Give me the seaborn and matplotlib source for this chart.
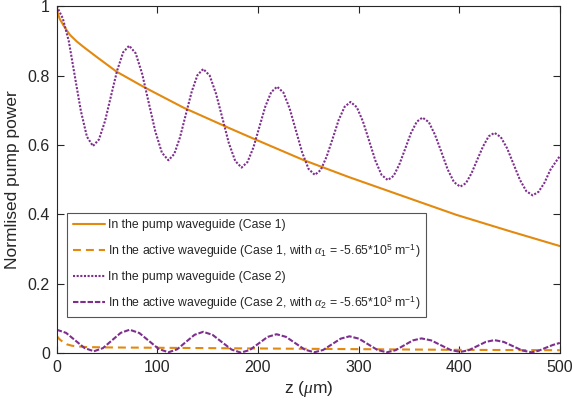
import matplotlib
matplotlib.use("Agg")
import matplotlib.pyplot as plt
import seaborn as sns
import pandas as pd

# ---------------- data ----------------
z_pump1 = [0, 1, 3, 6.6, 10, 13.2, 20, 26.4, 40, 59.6, 86, 125.7, 172, 195, 245, 290, 341, 397, 450, 500]
p_pump1 = [1.0, 0.98, 0.963, 0.945, 0.93, 0.917, 0.898, 0.883, 0.853, 0.811, 0.768, 0.708, 0.648, 0.619,
           0.557, 0.508, 0.456, 0.399, 0.352, 0.309]

z_act1 = [0, 3, 6, 10, 15, 20, 30, 50, 100, 150, 200, 250, 300, 350, 400, 450, 500]
p_act1 = [0.05, 0.04, 0.033, 0.026, 0.022, 0.02, 0.018, 0.017, 0.016, 0.015, 0.014, 0.013, 0.012,
          0.011, 0.010, 0.0095, 0.009]

z_pump2 = [0, 6, 12, 18, 24, 30, 36,
           42, 48, 54, 60, 66, 72,
           78.5, 85, 91.5, 98, 104.5, 111,
           116.8, 122.5, 128.3, 134.1, 139.8, 145.6,
           152, 158.3, 164.7, 171, 177.4, 183.7,
           189.6, 195.5, 201.4, 207.2, 213.1, 219,
           225.3, 231.5, 237.8, 244, 250.3, 256.5,
           262.4, 268.3, 274.3, 280.2, 286.1, 292,
           298.2, 304.3, 310.5, 316.7, 322.8, 329,
           334.8, 340.5, 346.3, 352, 357.8, 363.5,
           369.8, 376, 382.3, 388.5, 394.8, 401,
           406.7, 412.3, 418, 423.7, 429.3, 435,
           441.3, 447.7, 454, 460.3, 466.7, 473,
           478.8, 484.7, 490.5, 496.3, 500]
p_pump2 = [1.0, 0.965, 0.899, 0.798, 0.698, 0.624, 0.597,
           0.616, 0.669, 0.742, 0.814, 0.867, 0.886,
           0.864, 0.804, 0.721, 0.639, 0.578, 0.556,
           0.574, 0.622, 0.688, 0.753, 0.801, 0.819,
           0.800, 0.748, 0.677, 0.606, 0.554, 0.535,
           0.551, 0.593, 0.652, 0.710, 0.752, 0.768,
           0.751, 0.705, 0.641, 0.578, 0.531, 0.514,
           0.528, 0.567, 0.619, 0.672, 0.710, 0.724,
           0.709, 0.668, 0.612, 0.555, 0.514, 0.499,
           0.511, 0.544, 0.589, 0.634, 0.667, 0.679,
           0.666, 0.629, 0.580, 0.530, 0.493, 0.480,
           0.490, 0.519, 0.558, 0.596, 0.625, 0.635,
           0.623, 0.590, 0.545, 0.500, 0.467, 0.455,
           0.465, 0.491, 0.528, 0.553, 0.568]

z_act2 = [0, 9.25, 18.5, 27.75, 37,
          45.9, 54.75, 63.6, 72.5,
          82.1, 91.75, 101.4, 111,
          119.7, 128.3, 137, 145.6,
          155, 164.3, 173.7, 183,
          191.9, 200.75, 209.6, 218.5,
          227.9, 237.25, 246.6, 256,
          264.75, 273.5, 282.25, 291,
          300.25, 309.5, 318.75, 328,
          336.6, 345.25, 353.9, 362.5,
          372.1, 381.75, 391.4, 401,
          409.5, 418, 426.5, 435,
          444.25, 453.5, 462.75, 472,
          479, 486, 493, 500]
p_act2 = [0.068, 0.059, 0.037, 0.015, 0.006,
          0.015, 0.037, 0.059, 0.068,
          0.0585, 0.0355, 0.0125, 0.003,
          0.0116, 0.0325, 0.0534, 0.062,
          0.053, 0.032, 0.011, 0.002,
          0.0097, 0.0285, 0.0473, 0.055,
          0.0474, 0.029, 0.0106, 0.003,
          0.0097, 0.026, 0.0423, 0.049,
          0.0423, 0.026, 0.0097, 0.003,
          0.0088, 0.023, 0.0372, 0.043,
          0.0373, 0.0235, 0.0097, 0.004,
          0.009, 0.021, 0.033, 0.038,
          0.0329, 0.0205, 0.0081, 0.003,
          0.0075, 0.016, 0.024, 0.030]

labels = [
    "In the pump waveguide (Case 1)",
    r"In the active waveguide (Case 1, with $\alpha_1$ = -5.65*10$^5$ m$^{-1}$)",
    "In the pump waveguide (Case 2)",
    r"In the active waveguide (Case 2, with $\alpha_2$ = -5.65*10$^3$ m$^{-1}$)",
]
x_ticks = [0, 100, 200, 300, 400, 500]
y_ticks = [0, 0.2, 0.4, 0.6, 0.8, 1.0]
y_ticklabels = ["0", "0.2", "0.4", "0.6", "0.8", "1"]

# ---------------- style ----------------
sns.set_style("ticks")
plt.rcParams["font.family"] = ["Liberation Sans", "DejaVu Sans"]
plt.rcParams["mathtext.fontset"] = "custom"
plt.rcParams["mathtext.rm"] = "Liberation Sans"
plt.rcParams["mathtext.it"] = "Liberation Serif:italic"
plt.rcParams["mathtext.bf"] = "Liberation Sans:bold"

ORANGE = "#E2890E"
PURPLE = "#7E2F8E"
DARK = "#262626"

fig = plt.figure(figsize=(5.73, 4.08), dpi=100)
ax = fig.add_axes([0.099, 0.134, 0.878, 0.851])

series = [
    (z_pump1, p_pump1, ORANGE, "-", labels[0]),
    (z_act1, p_act1, ORANGE, (0, (3.8, 2.4)), labels[1]),
    (z_pump2, p_pump2, PURPLE, (0, (1.0, 0.75)), labels[2]),
    (z_act2, p_act2, PURPLE, (0, (2.6, 0.9)), labels[3]),
]
for zz, pp, col, ls, lab in series:
    df = pd.DataFrame({"z": zz, "p": pp})
    sns.lineplot(data=df, x="z", y="p", ax=ax, color=col, linewidth=1.5,
                 linestyle=ls, label=lab, errorbar=None, sort=False)

ax.set_xlim(0, 500)
ax.set_ylim(0, 1)
ax.set_xticks(x_ticks)
ax.set_yticks(y_ticks)
ax.set_yticklabels(y_ticklabels)
ax.tick_params(direction="in", length=5, width=0.8, top=True, right=True,
               labelsize=11.5, colors=DARK, labelcolor=DARK, pad=5)
for s in ax.spines.values():
    s.set_visible(True)
    s.set_linewidth(0.8)
    s.set_color(DARK)

ax.set_xlabel(r"z ($\mu$m)", fontsize=12.5, color=DARK, labelpad=3)
ax.set_ylabel("Normlised pump power", fontsize=12.5, color=DARK, labelpad=5)

leg = ax.legend(loc="upper left", bbox_to_anchor=(0.021, 0.403), borderaxespad=0,
                fontsize=8.8, frameon=True, fancybox=False, framealpha=1,
                edgecolor="#555555", handlelength=2.6, handletextpad=0.25,
                labelspacing=0.92, borderpad=0.45)
leg.get_frame().set_linewidth(0.8)

fig.savefig("out.png", dpi=100)
